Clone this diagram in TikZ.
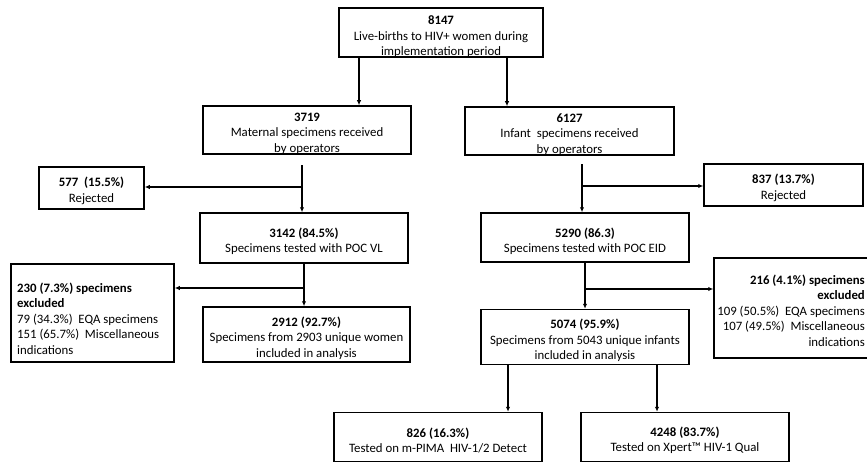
\documentclass[tikz,border=0pt]{standalone}
\usepackage{fontspec}
\setmainfont{Carlito}
\usetikzlibrary{arrows.meta}
\begin{document}
\begin{tikzpicture}[x=1pt,y=-1pt,
  txt/.style={inner sep=0pt, font=\fontsize{12.8}{15.4}\selectfont},
  ctext/.style={txt, align=center},
  plainbox/.style={draw=black, line width=1.5pt, fill=white, inner sep=0pt},
  arr/.style={line width=1.4pt, -{Latex[length=5pt,width=4.5pt]}}]
\useasboundingbox (0,0) rectangle (867,468);
\clip (0,0) rectangle (867,468);
\fill[white] (0,0) rectangle (867,468);

% boxes
\node[plainbox, minimum width=204pt, minimum height=49pt] (top) at (441,32.5) {};
\node[plainbox, minimum width=208pt, minimum height=48pt] (mat) at (307,130) {};
\node[plainbox, minimum width=209pt, minimum height=48pt] (inf) at (569.5,131) {};
\node[plainbox, minimum width=105pt, minimum height=42pt] (rejL) at (91.5,188) {};
\node[plainbox, minimum width=159pt, minimum height=42pt] (rejR) at (783.5,185) {};
\node[plainbox, minimum width=208pt, minimum height=50pt] (vl) at (304,238) {};
\node[plainbox, minimum width=208pt, minimum height=49pt] (eid) at (585,237.5) {};
\node[plainbox, minimum width=163pt, minimum height=98pt] (exL) at (92.5,313) {};
\node[plainbox, minimum width=163pt, minimum height=100pt] (exR) at (795.5,308) {};
\node[plainbox, minimum width=207pt, minimum height=55pt] (w2912) at (306.5,334.5) {};
\node[plainbox, minimum width=208pt, minimum height=55pt] (i5074) at (585,337) {};
\node[plainbox, minimum width=208pt, minimum height=49pt] (pima) at (438,437) {};
\node[plainbox, minimum width=208pt, minimum height=49pt] (xpert) at (685,437) {};

% texts
\node[ctext] (topt) at ([yshift=-4.5pt]top.center) {\textbf{8147}\\Live-births to HIV+ women during\\implementation period};
\node[ctext] (matt) at ([yshift=-3.5pt]mat.center) {\textbf{3719}\\Maternal specimens received\\by operators};
\node[ctext] (inft) at ([yshift=-3.5pt]inf.center) {\textbf{6127}\\Infant\ \ specimens received\\by operators};
\node[ctext] (rejLt) at ([yshift=-3pt]rejL.center) {\textbf{577\ \ (15.5\%)}\\Rejected};
\node[ctext] (rejRt) at ([yshift=-3pt]rejR.center) {\textbf{837 (13.7\%)}\\Rejected};
\node[ctext] (vlt) at ([yshift=-3.5pt]vl.center) {\textbf{3142 (84.5\%)}\\Specimens tested with POC VL};
\node[ctext] (eidt) at ([yshift=-3.5pt]eid.center) {\textbf{5290 (86.3)}\\Specimens tested with POC EID};
\node[txt, align=left, anchor=west] (exLt) at (17,318.5) {\textbf{230 (7.3\%) specimens}\\\textbf{excluded}\\79 (34.3\%)\ \ EQA specimens\\151 (65.7\%)\ \ Miscellaneous\\indications};
\node[txt, align=right, anchor=east] (exRt) at (865,310.5) {\textbf{216 (4.1\%) specimens}\\\textbf{excluded}\\109 (50.5\%)\ \ EQA specimens\\107 (49.5\%)\ \ Miscellaneous\\indications};
\node[ctext] (w2912t) at ([yshift=-3.5pt]w2912.center) {\textbf{2912 (92.7\%)}\\Specimens from 2903 unique women\\included in analysis};
\node[ctext] (i5074t) at ([yshift=-3.5pt]i5074.center) {\textbf{5074 (95.9\%)}\\Specimens from 5043 unique infants\\included in analysis};
\node[ctext] (pimat) at ([yshift=-3.5pt]pima.center) {\textbf{826 (16.3\%)}\\Tested on m-PIMA\ \ HIV-1/2 Detect};
\node[ctext] (xpertt) at ([yshift=-3.5pt]xpert.center) {\textbf{4248 (83.7\%)}\\Tested on Xpert™ HIV-1 Qual};

% top to second row
\draw[arr] ([xshift=-82pt]top.south) -- ([xshift=-82pt]top.south |- mat.north);
\draw[arr] ([xshift=66pt]top.south) -- ([xshift=66pt]top.south |- inf.north);

% maternal branch
\coordinate (ms) at (302,165);
\coordinate (mj) at (302,187);
\draw[arr] (ms) -- (ms |- vl.north);
\draw[arr] (mj) -- (mj -| rejL.east);

% infant branch
\coordinate (is) at (582,164);
\coordinate (ij) at (582,186);
\draw[arr] (is) -- (is |- eid.north);
\draw[arr] (ij) -- (ij -| rejR.west);

% tested VL
\coordinate (vj) at (304,288);
\draw[arr] (vl.south) -- (vl.south |- w2912.north);
\draw[arr] (vj) -- (vj -| exL.east);

% tested EID
\coordinate (ej) at (585,289);
\draw[arr] (eid.south) -- (eid.south |- i5074.north);
\draw[arr] (ej) -- (ej -| exR.west);

% 5074 to platforms
\draw[arr] ([xshift=-77pt]i5074.south) -- ([xshift=-77pt]i5074.south |- pima.north);
\draw[arr] ([xshift=72pt]i5074.south) -- ([xshift=72pt]i5074.south |- xpert.north);
\end{tikzpicture}
\end{document}
